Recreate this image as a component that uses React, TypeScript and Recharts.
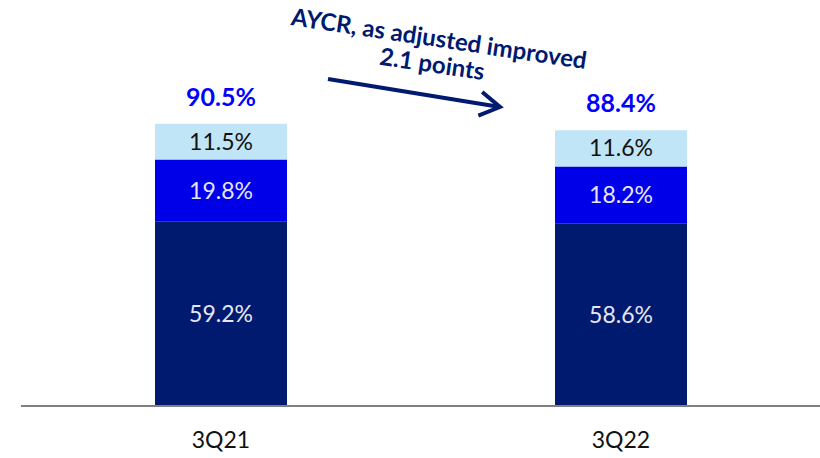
import React from "react";
import { Bar, BarChart, Customized, LabelList, XAxis, YAxis } from "recharts";

const quarters = ["3Q21", "3Q22"];
const lossRatio = [59.2, 58.6];
const expenseRatio = [19.8, 18.2];
const otherRatio = [11.5, 11.6];
const totals = [90.5, 88.4];
const noteLines = ["AYCR, as adjusted improved", "2.1 points"];

const data = quarters.map((q, i) => ({
  quarter: q,
  loss: lossRatio[i],
  expense: expenseRatio[i],
  other: otherRatio[i],
  total: totals[i],
}));

const FONT = "Lato, 'Source Sans Pro', sans-serif";
const NAVY = "#001a70";
const BLUE = "#0000e8";
const LIGHT = "#c0e5f6";

const pct = (v: any) => `${Number(v).toFixed(1)}%`;

const TotalLabel = (props: any) => {
  const { x, y, width, index } = props;
  return (
    <text
      x={x + width / 2}
      y={y - 18}
      textAnchor="middle"
      fill="#0000ff"
      fontSize={25}
      fontWeight={700}
      fontFamily={FONT}
    >
      {pct(totals[index])}
    </text>
  );
};

const Annotation = () => (
  <g>
    <defs>
      <marker id="head" markerWidth="8" markerHeight="8" refX="6" refY="4" orient="auto" markerUnits="strokeWidth">
        <path d="M1,1 L6,4 L1,7" fill="none" stroke={NAVY} strokeWidth={1} />
      </marker>
    </defs>
    <g transform="rotate(8.5 437 52)" fontFamily={FONT} fontWeight={700} fontSize={24} fill={NAVY} textAnchor="middle">
      <text x={437} y={47}>{noteLines[0]}</text>
      <text x={434} y={73}>{noteLines[1]}</text>
    </g>
    <line x1={328} y1={79} x2={500} y2={107} stroke={NAVY} strokeWidth={4} markerEnd="url(#head)" />
  </g>
);

export default function App() {
  return (
    <div style={{ position: "absolute", left: 0, top: 0, background: "#fff" }}>
      <BarChart
        width={820}
        height={458}
        data={data}
        margin={{ top: 94, right: -1, left: 21, bottom: 0 }}
        barSize={132}
      >
        <YAxis hide domain={[0, 100]} />
        <XAxis
          dataKey="quarter"
          height={52}
          axisLine={{ stroke: "#808080", strokeWidth: 2 }}
          tickLine={false}
          tick={{ fill: "#111", fontSize: 23, fontFamily: FONT, dy: 18 }}
        />
        <Bar dataKey="loss" stackId="a" fill={NAVY} isAnimationActive={false}>
          <LabelList dataKey="loss" position="center" formatter={pct} fill="#e6e6f5" fontSize={23} fontFamily={FONT} />
        </Bar>
        <Bar dataKey="expense" stackId="a" fill={BLUE} isAnimationActive={false}>
          <LabelList dataKey="expense" position="center" formatter={pct} fill="#e6e6f5" fontSize={23} fontFamily={FONT} />
        </Bar>
        <Bar dataKey="other" stackId="a" fill={LIGHT} isAnimationActive={false}>
          <LabelList dataKey="other" position="center" formatter={pct} fill="#111" fontSize={23} fontFamily={FONT} />
          <LabelList dataKey="total" content={TotalLabel} />
        </Bar>
        <Customized component={Annotation} />
      </BarChart>
    </div>
  );
}
